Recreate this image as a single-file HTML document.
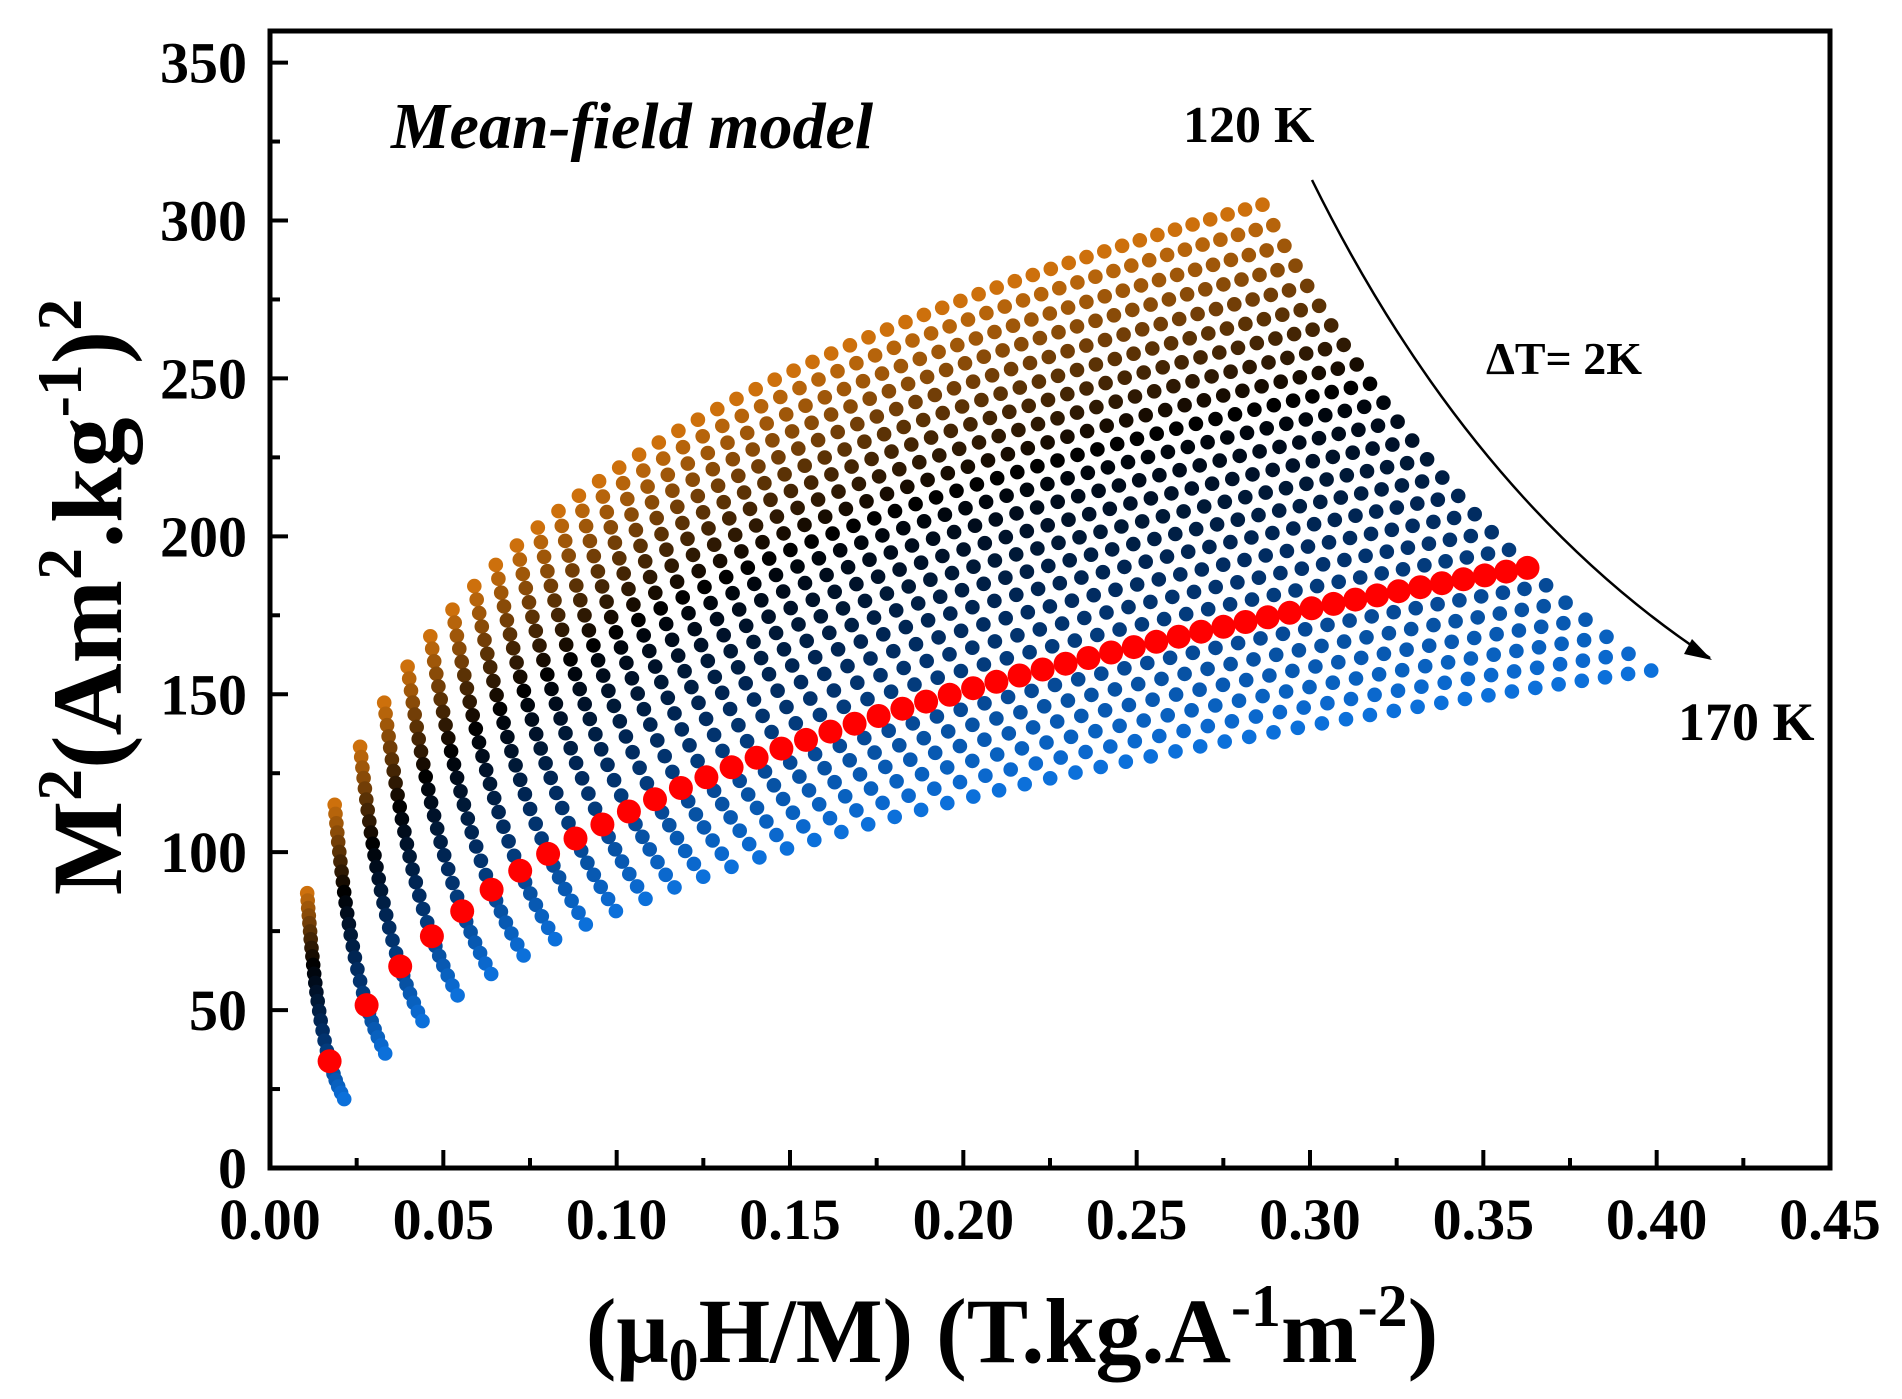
<!DOCTYPE html>
<html><head><meta charset="utf-8">
<style>
html,body{margin:0;padding:0;background:#fff;}
svg{display:block;}
text{font-family:"Liberation Serif",serif;font-weight:bold;fill:#000;}
</style></head>
<body>
<svg id="chart" width="1902" height="1399" viewBox="0 0 1902 1399" xmlns="http://www.w3.org/2000/svg">
<rect x="0" y="0" width="1902" height="1399" fill="#fff"/>
<g id="dots"></g>
<g id="axes"></g>
<text x="391" y="148" font-size="66" font-style="italic">Mean-field model</text>
<text x="1183" y="142" font-size="52">120 K</text>
<text x="1486" y="374" font-size="46">ΔT= 2K</text>
<text x="1678" y="740" font-size="54">170 K</text>
<path d="M1312,180 Q1470,500 1710,658" fill="none" stroke="#000" stroke-width="2.5"/>
<polygon points="1712,660 1684,654 1692,639" fill="#000"/>
<text x="1012" y="1362" font-size="92" text-anchor="middle">(μ<tspan font-size="60" dy="18">0</tspan><tspan dy="-18">H/M) (T.kg.A</tspan><tspan font-size="60" dy="-36">-1</tspan><tspan dy="36">m</tspan><tspan font-size="60" dy="-36">-2</tspan><tspan dy="36">)</tspan></text>
<text transform="translate(121,597) rotate(-90)" font-size="100" text-anchor="middle">M<tspan font-size="64" dy="-40">2</tspan><tspan dy="40">(Am</tspan><tspan font-size="64" dy="-40">2</tspan><tspan dy="40">.kg</tspan><tspan font-size="64" dy="-40">-1</tspan><tspan dy="40">)</tspan><tspan font-size="64" dy="-40">2</tspan></text>
</svg>
<script>
// ---- data ----
var temperatures = [120,122,124,126,128,130,132,134,136,138,140,142,144,146,148,150,152,154,156,158,160,162,164,166,168,170];
var fieldStart = 0.1, fieldStep = 0.1, fieldCount = 50; // applied fields in T
var m2LowField = [87,84.7,82.3,79.9,77.5,74.9,72.4,69.7,67,64.3,61.5,58.6,55.7,52.8,49.7,46.7,43.5,40.3,37.1,33.8,31.8,29.8,27.8,25.8,23.8,21.8];
var m2HighField = [305,298.5,292,285.7,279.3,273,266.8,260.6,254.4,248.3,242.3,236.3,230.3,224.4,218.6,212.8,207,201.3,195.7,190,184.5,179,173.6,168.2,162.8,157.5];
var highlightTemp = 158;
var xTicks = [0,0.05,0.10,0.15,0.20,0.25,0.30,0.35,0.40,0.45];
var xTickLabels = ["0.00","0.05","0.10","0.15","0.20","0.25","0.30","0.35","0.40","0.45"];
var yTicks = [0,50,100,150,200,250,300,350];
var yTickLabels = ["0","50","100","150","200","250","300","350"];

var X0=270,X1=1830,Y0=1168,Y1=31, XMAX=0.45, YMAX=360;
var SHAPE=0.02;
function sx(v){return X0+v/XMAX*(X1-X0);}
function sy(v){return Y0-v/YMAX*(Y0-Y1);}
var NS="http://www.w3.org/2000/svg";
function mk(tag,attrs,parent){var e=document.createElementNS(NS,tag);for(var k in attrs)e.setAttribute(k,attrs[k]);parent.appendChild(e);return e;}

function colorFor(t){
  var stops=[[0,[205,112,12]],[0.36,[0,0,0]],[0.62,[0,40,90]],[1,[12,112,218]]];
  for(var i=0;i<stops.length-1;i++){var a=stops[i],b=stops[i+1];
    if(t<=b[0]){var f=(t-a[0])/(b[0]-a[0]);
      return "rgb("+[0,1,2].map(function(k){return Math.round(a[1][k]+(b[1][k]-a[1][k])*f);}).join(",")+")";}}
  return "rgb(12,112,218)";
}

var dots=document.getElementById('dots');
var hl=null;
var Hmax=fieldStart+fieldStep*(fieldCount-1);
function shape(H){return (Math.pow(H/fieldStart,SHAPE)-1)/(Math.pow(Hmax/fieldStart,SHAPE)-1);}
temperatures.forEach(function(T,i){
  var m1=Math.sqrt(m2LowField[i]), m2=Math.sqrt(m2HighField[i]);
  var isHl=(T===highlightTemp);
  var g=mk('g',{},dots);
  
  
  if(isHl) hl=g;
  var col=isHl?'#ff0000':colorFor(i/(temperatures.length-1));
  for(var j=0;j<fieldCount;j++){
    var H=fieldStart+fieldStep*j;
    var M=m1+(m2-m1)*shape(H);
    var c=mk('circle',{cx:sx(H/M).toFixed(1),cy:sy(M*M).toFixed(1),r:isHl?12:7.3,fill:col},g);
    
    
  }
});
if(hl) dots.appendChild(hl);

var ax=document.getElementById('axes');
var fr=mk('rect',{x:X0,y:Y1,width:X1-X0,height:Y0-Y1,fill:'none',stroke:'#000','stroke-width':5},ax);


xTicks.forEach(function(v,i){
  var x=sx(v);
  var t=mk('line',{x1:x,y1:Y0,x2:x,y2:Y0-18,stroke:'#000','stroke-width':4},ax);
  
  
  if(i<xTicks.length-1){var xm=sx(v+0.025);
    var m=mk('line',{x1:xm,y1:Y0,x2:xm,y2:Y0-10,stroke:'#000','stroke-width':4},ax);
    
    }
  var l=mk('text',{x:x,y:Y0+71,'font-size':58,'text-anchor':'middle'},ax);
  l.textContent=xTickLabels[i];
  
  
});
yTicks.forEach(function(v,i){
  var y=sy(v);
  var t=mk('line',{x1:X0,y1:y,x2:X0+18,y2:y,stroke:'#000','stroke-width':4},ax);
  
  
  var ym=sy(v+25);
  if(ym>Y1+3){var m=mk('line',{x1:X0,y1:ym,x2:X0+10,y2:ym,stroke:'#000','stroke-width':4},ax);
    
    }
  var l=mk('text',{x:247,y:y+20,'font-size':58,'text-anchor':'end'},ax);
  l.textContent=yTickLabels[i];
  
  
});
</script>
</body></html>
